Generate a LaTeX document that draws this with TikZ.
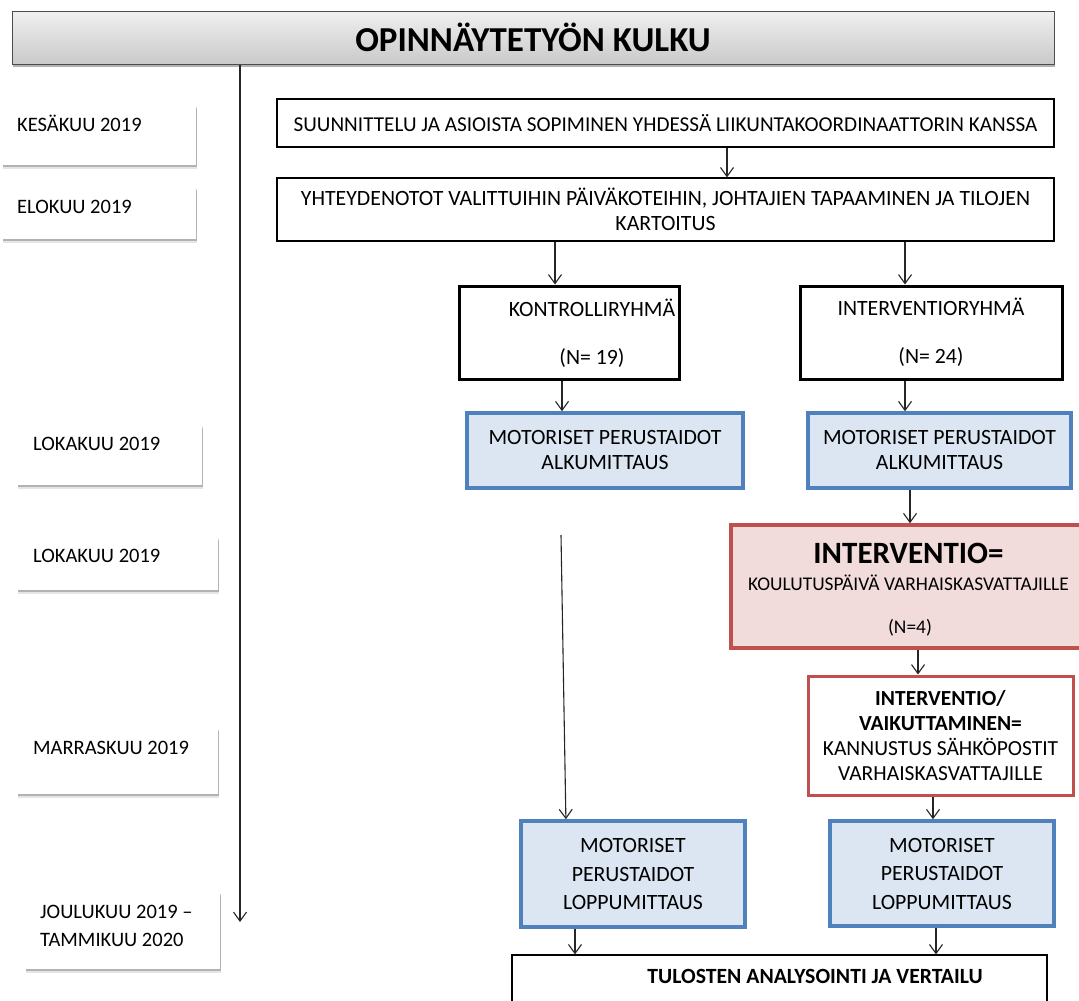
\documentclass[tikz,border=0pt]{standalone}
\usepackage{fontspec}
\setmainfont{Carlito}
\usetikzlibrary{arrows.meta,shadows,calc}
\definecolor{bluefill}{HTML}{DCE6F2}
\definecolor{blueline}{HTML}{4F81BD}
\definecolor{redfill}{HTML}{F2DCDB}
\definecolor{redline}{HTML}{C0504D}
\begin{document}
\begin{tikzpicture}[x=1pt,y=-1pt,
  every node/.style={inner sep=0pt, font=\fontsize{21.8}{25}\selectfont},
  thinbox/.style={draw=black, line width=1.2pt, fill=white, align=center},
  thickbox/.style={draw=black, line width=3pt, fill=white, align=center},
  bluebox/.style={draw=blueline, line width=3.5pt, fill=bluefill, align=center},
  redbox/.style={draw=redline, line width=3.5pt, fill=redfill, align=center},
  redwhite/.style={draw=redline, line width=3pt, fill=white, align=center},
  datebox/.style={fill=white,
    drop shadow={shadow xshift=0.6pt, shadow yshift=-2pt, opacity=0.22, fill=black},
    drop shadow={shadow xshift=1.2pt, shadow yshift=-4pt, opacity=0.10, fill=black}},
  datetxt/.style={anchor=base west, align=left, font=\fontsize{20.5}{28}\selectfont},
  titlebox/.style={draw=black!70, line width=1pt, top color=gray!12, bottom color=gray!42,
    drop shadow={shadow xshift=1pt, shadow yshift=-3pt, opacity=0.3, fill=black}},
  arr/.style={draw=black!85, line width=1.1pt, -{Straight Barb[length=9pt,width=13pt,line width=1.1pt]}},
]
\useasboundingbox (0,0) rectangle (1079,1001);
\fill[white] (0,0) rectangle (1079,1001);

% title
\node[titlebox, minimum width=1042, minimum height=53] (title) at (533,37.5)
  {\fontsize{35}{40}\selectfont\bfseries OPINNÄYTETYÖN KULKU};

% timeline
\coordinate (tlend) at (240,922);
\draw[arr] (title.south -| tlend) -- (tlend);

% date boxes
\node[datebox, minimum width=194, minimum height=60] (d1) at (99,135) {};
\node[datetxt] (d1t) at (17,131.5) {KESÄKUU 2019};
\node[datebox, minimum width=194, minimum height=52] (d2) at (99,213) {};
\node[datetxt] (d2t) at (17,213.5) {ELOKUU 2019};
\node[datebox, minimum width=185, minimum height=60] (d3) at (109.5,455) {};
\node[datetxt] (d3t) at (33,450.5) {LOKAKUU 2019};
\node[datebox, minimum width=201, minimum height=53] (d4) at (117.5,563.5) {};
\node[datetxt] (d4t) at (33,562.5) {LOKAKUU 2019};
\node[datebox, minimum width=201, minimum height=66] (d5) at (117.5,761) {};
\node[datetxt] (d5t) at (33,754.5) {MARRASKUU 2019};
\node[datebox, minimum width=195, minimum height=77] (d6) at (122.5,930.5) {};
\node[datetxt] (d6t) at (40,946.5) {JOULUKUU 2019 –\\TAMMIKUU 2020};

% main flow
\node[thinbox, minimum width=777, minimum height=48, font=\fontsize{21.2}{25}\selectfont] (b1) at (665.5,123)
  {SUUNNITTELU JA ASIOISTA SOPIMINEN YHDESSÄ LIIKUNTAKOORDINAATTORIN KANSSA};
\node[thinbox, minimum width=777, minimum height=63] (b2) at (665.5,209.5)
  {YHTEYDENOTOT VALITTUIHIN PÄIVÄKOTEIHIN, JOHTAJIEN TAPAAMINEN JA TILOJEN\\KARTOITUS};
\node[thickbox, minimum width=220, minimum height=93] (kg) at (569,332.5) {};
\node[align=center] (kgt) at (592,333) {KONTROLLIRYHMÄ\\[23pt](N= 19)};
\node[thickbox, minimum width=262, minimum height=93] (ig) at (931,332.5)
  {INTERVENTIORYHMÄ\\[23pt](N= 24)};
\node[bluebox, minimum width=276, minimum height=75] (ka) at (605,450.5)
  {MOTORISET PERUSTAIDOT\\ALKUMITTAUS};
\node[bluebox, minimum width=263, minimum height=75] (ia) at (939.5,450.5)
  {MOTORISET PERUSTAIDOT\\ALKUMITTAUS};
\node[redbox, minimum width=354, minimum height=123] (r1) at (908,586.5) {};
\node[anchor=base, font=\fontsize{31}{34}\selectfont\bfseries] (r1a) at (908.5,563) {INTERVENTIO=};
\node[anchor=base, font=\fontsize{19.4}{24}\selectfont] (r1b) at (908.5,590) {KOULUTUSPÄIVÄ VARHAISKASVATTAJILLE};
\node[anchor=base, font=\fontsize{19.4}{24}\selectfont] (r1c) at (910,633) {(N=4)};
\node[redwhite, minimum width=265, minimum height=119, font=\fontsize{21.5}{25.3}\selectfont] (r2) at (940.5,735.5)
  {\textbf{INTERVENTIO/}\\\textbf{VAIKUTTAMINEN=}\\KANNUSTUS SÄHKÖPOSTIT\\VARHAISKASVATTAJILLE};
\node[bluebox, minimum width=224, minimum height=106, font=\fontsize{21.8}{28.5}\selectfont] (kl) at (633,874)
  {MOTORISET\\PERUSTAIDOT\\LOPPUMITTAUS};
\node[bluebox, minimum width=224, minimum height=105, font=\fontsize{21.8}{28.5}\selectfont] (il) at (942,873.5)
  {MOTORISET\\PERUSTAIDOT\\LOPPUMITTAUS};
\node[thinbox, minimum width=535, minimum height=80] (fin) at (779.5,995) {};
\node[anchor=base, font=\fontsize{21.7}{25}\selectfont\bfseries] (fint) at (815,983) {TULOSTEN ANALYSOINTI JA VERTAILU};

% connectors
\draw[arr] (b1.south -| 727,0) -- (b2.north -| 727,0);
\draw[arr] (b2.south -| 555,0) -- (kg.north -| 555,0);
\draw[arr] (b2.south -| 905,0) -- (ig.north -| 905,0);
\draw[arr] (kg.south -| 562,0) -- (ka.north -| 562,0);
\draw[arr] (ig.south -| 905,0) -- (ia.north -| 905,0);
\draw[arr] (ia.south -| 910,0) -- (r1.north -| 910,0);
\draw[arr] (r1.south -| 918,0) -- (r2.north -| 918,0);
\draw[arr] (r2.south -| 933,0) -- (il.north -| 933,0);
\coordinate (kstart) at (561,535);
\draw[arr] (kstart) -- ($(kl.north west)!0.205!(kl.north east)$);
\draw[arr] (kl.south -| 575,0) -- (fin.north -| 575,0);
\draw[arr] (il.south -| 936,0) -- (fin.north -| 936,0);
\end{tikzpicture}
\end{document}
